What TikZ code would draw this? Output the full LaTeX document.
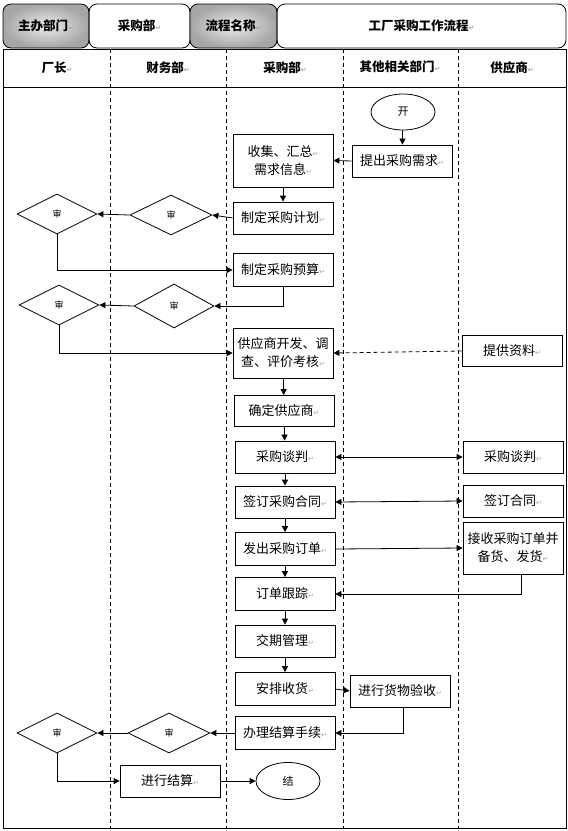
\documentclass[tikz,border=0pt]{standalone}
\usepackage{fontspec}
\usepackage{xcolor}
\setmainfont{Noto Sans CJK SC}
\newfontfamily\symfont{DejaVu Sans}
\usetikzlibrary{shapes.geometric, arrows.meta}
\newcommand\retmark{{\symfont\color{gray!70}\fontsize{7}{7}\selectfont ↵}}

\begin{document}
\begin{tikzpicture}[x=1pt, y=-1pt, line width=0.8pt,
    every node/.style={font=\fontsize{13}{18}\selectfont, align=center},
    box/.style={draw, fill=white, rectangle, minimum width=100pt, minimum height=32pt, inner sep=1pt},
    tall/.style={box, minimum height=52pt},
    dia/.style={draw, fill=white, diamond, minimum width=82pt, minimum height=40pt, inner sep=0pt, font=\fontsize{9}{9}\selectfont},
    oval/.style={draw, fill=white, ellipse, minimum width=64pt, minimum height=36pt, font=\fontsize{11}{11}\selectfont},
    headbox/.style={draw, rounded corners=8pt, minimum height=44pt, font=\bfseries\fontsize{12.5}{15}\selectfont},
    lanehead/.style={font=\bfseries\fontsize{12.5}{15}\selectfont},
    arr/.style={-{Triangle[length=6pt, width=6pt]}},
    twoway/.style={{Triangle[length=6pt, width=6pt]}-{Triangle[length=6pt, width=6pt]}},
    laneline/.style={dash pattern=on 4pt off 3pt, line width=0.6pt}]
    \useasboundingbox (0,0) rectangle (568,831);

    \draw (3,49) rectangle (566,828);
    \draw (3,87) -- (566,87);
    \foreach \x in {110,226,343,458}
        \draw[laneline] (\x,49) -- (\x,828);

    \node[headbox, minimum width=86pt, inner color=gray!15, outer color=gray!70] (hmain) at (46,26) {主办部门\retmark};
    \node[headbox, minimum width=101pt] (hdept) at (139.5,26) {采购部\retmark};
    \node[headbox, minimum width=87pt, inner color=gray!15, outer color=gray!70] (hname) at (233.5,26) {流程名称\retmark};
    \node[headbox, minimum width=289pt] (htitle) at (421.5,26) {工厂采购工作流程\retmark};

    \node[lanehead] (lboss) at (57,68) {厂长\retmark};
    \node[lanehead] (lfin) at (168,68) {财务部\retmark};
    \node[lanehead] (lbuy) at (285,68) {采购部\retmark};
    \node[lanehead] (lother) at (400,67) {其他相关部门\retmark};
    \node[lanehead] (lsup) at (512,68) {供应商\retmark};

    \node[oval] (start) at (403,112) {开};
    \node[box] (need) at (402,161) {提出采购需求\retmark};
    \node[tall, minimum height=53pt] (collect) at (283,160.5) {收集、汇总\retmark\\需求信息\retmark};
    \node[box] (plan) at (283,218) {制定采购计划\retmark};
    \node[dia] (fin1) at (171,215) {审};
    \node[dia, minimum width=80pt] (boss1) at (57,214) {审};
    \node[box, minimum height=33pt] (budget) at (283,270) {制定采购预算\retmark};
    \node[dia, minimum width=80pt, minimum height=44pt] (fin2) at (174,306) {审};
    \node[dia, minimum width=80pt] (boss2) at (59,305) {审};
    \node[tall, minimum height=50pt] (dev) at (283,353) {供应商开发、调\\查、评价考核\retmark};
    \node[box, minimum height=31pt] (info) at (512,351) {提供资料\retmark};
    \node[box, minimum height=31pt] (pick) at (284,411) {确定供应商\retmark};
    \node[box] (talk) at (285,457) {采购谈判\retmark};
    \node[box] (stalk) at (513,457) {采购谈判\retmark};
    \node[box] (sign) at (285,502) {签订采购合同\retmark};
    \node[box] (ssign) at (513,501) {签订合同\retmark};
    \node[box, minimum height=33pt] (order) at (285,549) {发出采购订单\retmark};
    \node[tall] (recv) at (513,548) {接收采购订单并\\备货、发货\retmark};
    \node[box, minimum height=33pt] (track) at (285,594) {订单跟踪\retmark};
    \node[box] (due) at (285,641) {交期管理\retmark};
    \node[box, minimum height=33pt] (arrange) at (285,689) {安排收货\retmark};
    \node[box] (check) at (400,691) {进行货物验收\retmark};
    \node[box, minimum height=33pt] (settle) at (285,733) {办理结算手续\retmark};
    \node[dia] (fin3) at (169,733) {审};
    \node[dia, minimum width=80pt] (boss3) at (57,733) {审};
    \node[box] (pay) at (170,781) {进行结算\retmark};
    \node[oval, minimum height=37pt] (stop) at (288,781) {结};

    \draw[arr] (start) -- (need);
    \draw[arr] (need.west) -- (collect.east);
    \draw[arr] (collect) -- (plan);
    \draw[arr] (plan.west) -- (fin1.east);
    \draw[arr] (fin1.west) -- (boss1.east);
    \draw[arr] (boss1.south) |- (budget.west);
    \draw[arr] (budget.south) |- (fin2.east);
    \draw[arr] (fin2.west) -- (boss2.east);
    \draw[arr] (boss2.south) |- (dev.west);
    \draw[arr, dash pattern=on 4pt off 3pt] (info.west) -- (dev.east);
    \draw[arr] (dev) -- (pick);
    \draw[arr] (pick) -- (talk);
    \draw[arr] (talk) -- (sign);
    \draw[arr] (sign) -- (order);
    \draw[arr] (order) -- (track);
    \draw[arr] (track) -- (due);
    \draw[arr] (due) -- (arrange);
    \draw[twoway] (talk.east) -- (stalk.west);
    \draw[twoway] (sign.east) -- (ssign.west);
    \draw[arr] (order.east) -- (recv.west);
    \draw[arr] ([xshift=8pt]recv.south) |- (track.east);
    \draw[arr] (arrange.east) -- (check.west);
    \draw[arr] ([xshift=3pt]check.south) |- (settle.east);
    \draw[arr] (settle.west) -- (fin3.east);
    \draw[arr] (fin3.west) -- (boss3.east);
    \draw[arr] (boss3.south) |- (pay.west);
    \draw[arr] (pay.east) -- (stop.west);
\end{tikzpicture}
\end{document}
